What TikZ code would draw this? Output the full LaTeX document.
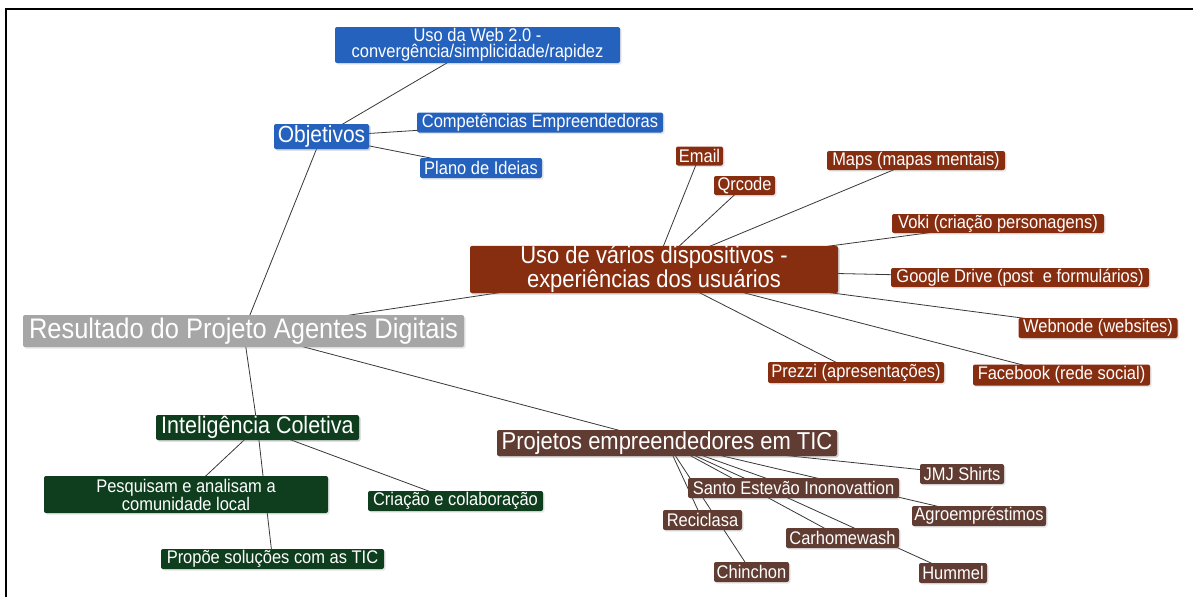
\documentclass[tikz,border=0pt]{standalone}
\usepackage{fontspec}
\setmainfont[FakeStretch=0.9]{Liberation Sans}
\usetikzlibrary{backgrounds, shadows}
\definecolor{objblue}{RGB}{36,98,190}
\definecolor{usored}{RGB}{136,46,16}
\definecolor{rootgray}{RGB}{166,166,166}
\definecolor{intelgreen}{RGB}{14,62,30}
\definecolor{projbrown}{RGB}{97,60,50}
\definecolor{linkgray}{RGB}{55,55,55}
\tikzset{
    topic/.style={text=white, inner sep=0pt, rounded corners=2pt, align=center,
        font=\fontsize{18.3}{16.5}\selectfont,
        drop shadow={opacity=0.2, shadow xshift=1.5pt, shadow yshift=-1.5pt}},
    bigtopic/.style={topic, font=\fontsize{23.9}{25}\selectfont},
    objtopic/.style={topic, fill=objblue},
    usotopic/.style={topic, fill=usored},
    inteltopic/.style={topic, fill=intelgreen},
    projtopic/.style={topic, fill=projbrown},
    link/.style={draw=linkgray, line width=0.8pt},
    common settings/.style={x=1pt, y=-1pt}
}

\begin{document}
\begin{tikzpicture}[common settings]

    \useasboundingbox (0,0) rectangle (1193,597);
    % Frame
    \draw[line width=2.5pt] (6,597) -- (6,9) -- (1194,9);

    % Central topic
    \node[topic, fill=rootgray, font=\fontsize{28.3}{29}\selectfont,
          minimum width=441, minimum height=32] (root) at (243.5,331) {Resultado do Projeto Agentes Digitais};

    % Objetivos branch
    \node[objtopic, bigtopic, font=\fontsize{23.3}{24}\selectfont, minimum width=95, minimum height=25] (obj) at (321.5,136.5) {Objetivos};
    \node[objtopic, minimum width=285, minimum height=36] (web) at (477.5,45) {Uso da Web 2.0 -\\convergência/simplicidade/rapidez};
    \node[objtopic, minimum width=246, minimum height=20] (comp) at (540,122.5) {Competências Empreendedoras};
    \node[objtopic, minimum width=122, minimum height=20] (plano) at (481,168) {Plano de Ideias};

    % Dispositivos branch
    \node[usotopic, bigtopic, font=\fontsize{24.4}{23}\selectfont, minimum width=368, minimum height=47] (uso) at (654,269.5) {Uso de vários dispositivos -\\experiências dos usuários};
    \node[usotopic, minimum width=47, minimum height=19] (email) at (699.5,156) {Email};
    \node[usotopic, minimum width=61, minimum height=19] (qrcode) at (744.5,185.5) {Qrcode};
    \node[usotopic, minimum width=178, minimum height=19] (maps) at (916,160.5) {Maps (mapas mentais)};
    \node[usotopic, minimum width=212, minimum height=19] (voki) at (998,223.5) {Voki (criação personagens)};
    \node[usotopic, minimum width=258, minimum height=19] (gdrive) at (1020,277.5) {Google Drive (post\ \ e formulários)};
    \node[usotopic, minimum width=159, minimum height=20] (webnode) at (1098,328) {Webnode (websites)};
    \node[usotopic, minimum width=176, minimum height=21] (prezzi) at (856,372.5) {Prezzi (apresentações)};
    \node[usotopic, minimum width=177, minimum height=21] (facebook) at (1061.5,375) {Facebook (rede social)};

    % Inteligencia branch
    \node[inteltopic, bigtopic, minimum width=203, minimum height=25] (intel) at (257.5,427.5) {Inteligência Coletiva};
    \node[inteltopic, minimum width=284, minimum height=37] (pesq) at (186,494.5) {Pesquisam e analisam a\\comunidade local};
    \node[inteltopic, minimum width=175, minimum height=20] (criacao) at (455.5,501) {Criação e colaboração};
    \node[inteltopic, minimum width=223, minimum height=20] (propoe) at (272.5,559) {Propõe soluções com as TIC};

    % Projetos branch
    \node[projtopic, bigtopic, font=\fontsize{24.4}{25}\selectfont, minimum width=340, minimum height=26] (proj) at (667,443) {Projetos empreendedores em TIC};
    \node[projtopic, minimum width=84, minimum height=20] (jmj) at (962,474) {JMJ Shirts};
    \node[projtopic, minimum width=211, minimum height=20] (santo) at (793.5,488) {Santo Estevão Inonovattion};
    \node[projtopic, minimum width=134, minimum height=20] (agro) at (979,516) {Agroempréstimos};
    \node[projtopic, minimum width=79, minimum height=20] (recic) at (702.5,520) {Reciclasa};
    \node[projtopic, minimum width=113, minimum height=20] (carho) at (842.5,538) {Carhomewash};
    \node[projtopic, minimum width=75, minimum height=20] (chin) at (751.5,572) {Chinchon};
    \node[projtopic, minimum width=68, minimum height=20] (hummel) at (953,573) {Hummel};

    % Connectors behind the topics
    \begin{scope}[on background layer]
        \foreach \a/\b in {root/obj, root/uso, root/proj, root/intel,
                           obj/web, obj/comp, obj/plano,
                           uso/email, uso/qrcode, uso/maps, uso/voki, uso/gdrive,
                           uso/webnode, uso/facebook, uso/prezzi,
                           intel/pesq, intel/criacao, intel/propoe,
                           proj/jmj, proj/santo, proj/agro, proj/recic,
                           proj/carho, proj/chin, proj/hummel}
            \draw[link] (\a.center) -- (\b.center);
    \end{scope}

\end{tikzpicture}
\end{document}
